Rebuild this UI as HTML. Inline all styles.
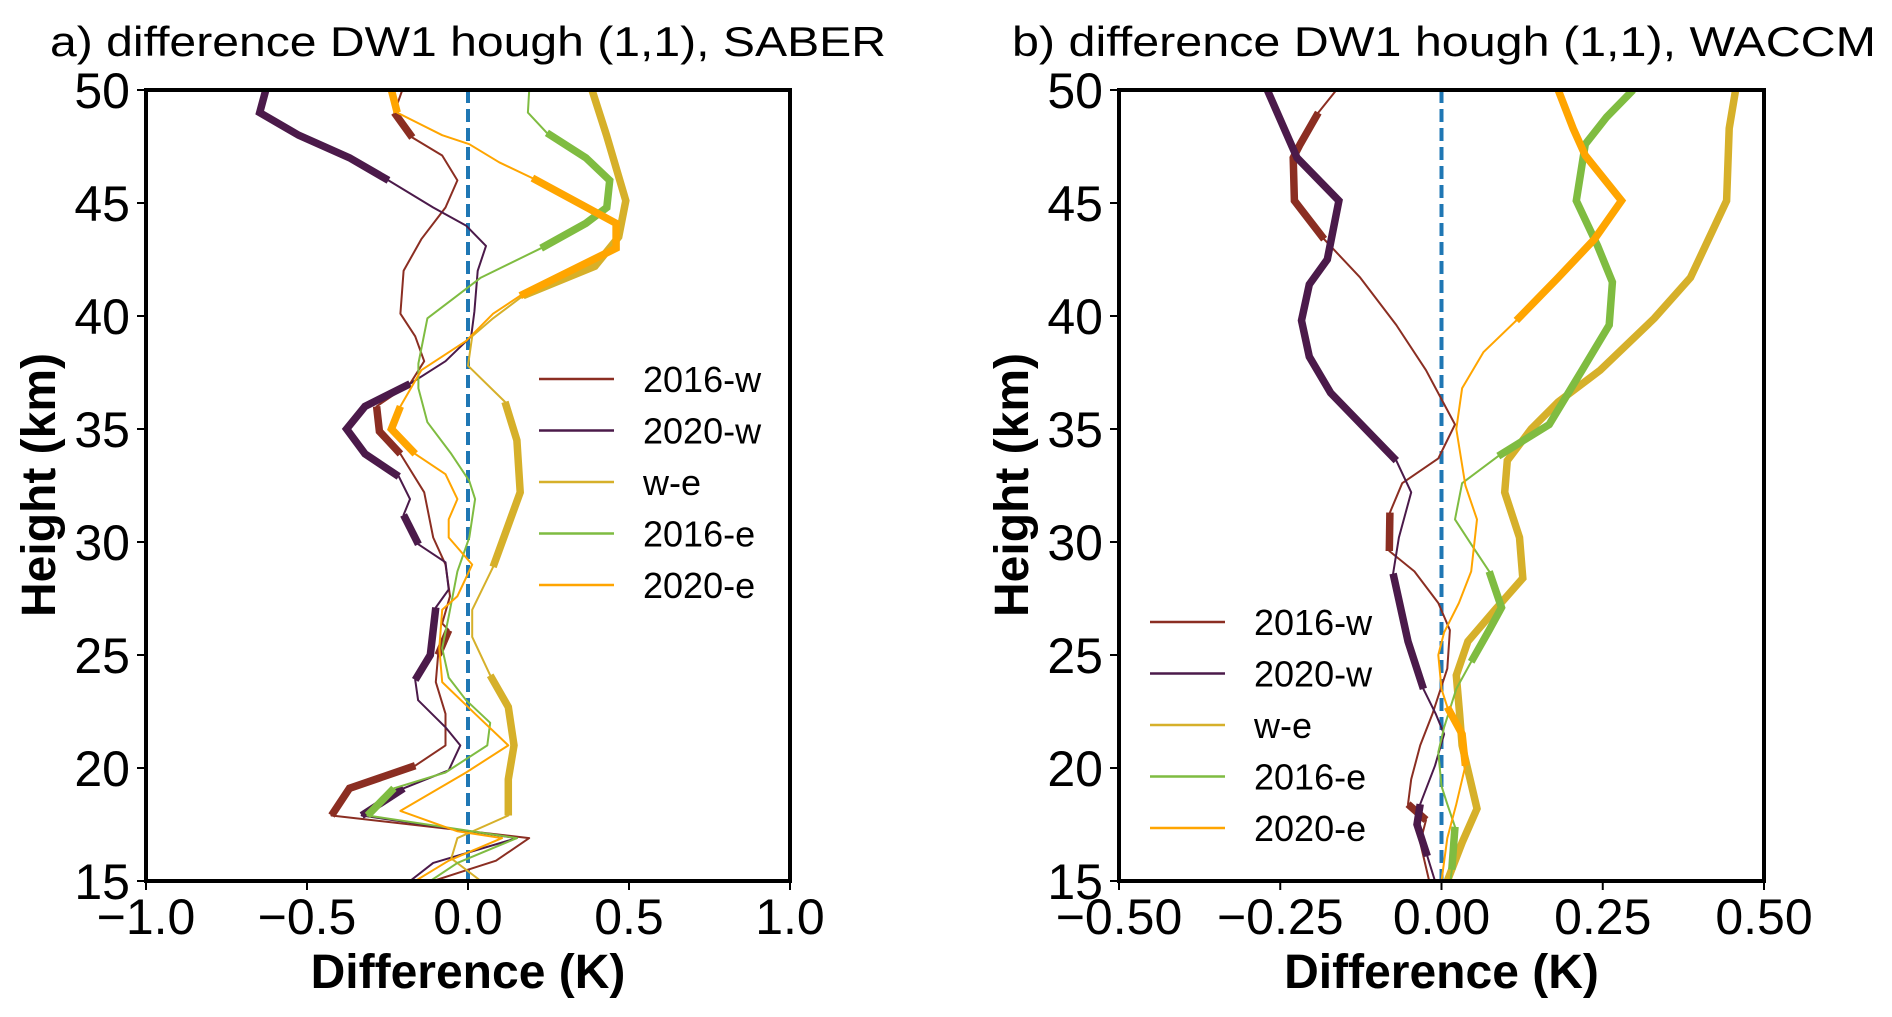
<!DOCTYPE html>
<html><head><meta charset="utf-8"><style>
html,body{margin:0;padding:0;background:#fff}
svg{display:block}
text{font-family:"Liberation Sans",sans-serif}
</style></head><body>
<svg id="fig" width="1892" height="1017" viewBox="0 0 1892 1017" xmlns="http://www.w3.org/2000/svg">
<rect width="1892" height="1017" fill="#fff"/>
</svg>
<script>
// ===== Panel a (SABER) data =====
const aHeights_2016w=[50,49,47.9,47.1,46,44.8,43.4,42,40.1,39.1,38,37,36,34.9,33.9,32.2,30.2,29,27.6,26.4,26.1,25,23.8,22.4,21,20.1,19.1,17.9,16.9,15.9,15.5,15];
const aValues_2016w=[-0.204,-0.229,-0.173,-0.08,-0.033,-0.07,-0.145,-0.2,-0.21,-0.164,-0.136,-0.18,-0.284,-0.275,-0.21,-0.136,-0.108,-0.07,-0.056,-0.08,-0.06,-0.093,-0.1,-0.07,-0.07,-0.164,-0.368,-0.424,0.19,0.087,0,-0.108];
const aSig_2016w=[0,1,1,0,0,0,0,0,0,0,0,0,1,1,1,0,0,0,0,0,1,1,0,0,0,1,1,1,0,0,0,0];

const aHeights_2020w=[50,49,48,47,46,44.8,44,43.1,42,40.2,39.1,38,37,36,35,33.9,32.9,31.9,31.2,29.9,29.1,27.9,27.1,25,23.9,23,21.8,21,19.9,19.1,17.9,16.9,15.8,15];
const aValues_2020w=[-0.628,-0.647,-0.526,-0.368,-0.247,-0.108,-0.006,0.056,0.03,0.02,0.01,-0.07,-0.18,-0.32,-0.377,-0.32,-0.215,-0.18,-0.2,-0.154,-0.07,-0.06,-0.1,-0.117,-0.164,-0.155,-0.07,-0.024,-0.06,-0.2,-0.33,0.152,-0.108,-0.18];
const aSig_2020w=[1,1,1,1,1,0,0,0,0,0,0,0,1,1,1,1,1,0,1,1,0,0,1,1,1,0,0,0,0,1,1,0,0,0];

const aHeights_we=[50,48,45.1,43.5,42.2,40.9,39.9,39.1,37.8,36.2,34.5,32.2,28.9,27,25.8,24.1,22.7,21,19.5,17.9,16.9,16,15];
const aValues_we=[0.385,0.43,0.49,0.468,0.394,0.171,0.078,0.013,0,0.115,0.152,0.162,0.078,0.013,0.013,0.069,0.125,0.143,0.125,0.125,-0.033,-0.052,0.04];
const aSig_we=[1,1,1,1,1,1,0,0,0,1,1,1,1,0,0,1,1,1,1,1,0,0,0];

const aHeights_2016e=[50,49,48.1,47,46,44.8,44.1,43,41.7,40.8,39.9,37.9,36.8,35.3,33.9,32.7,31.9,30.2,28.7,26.7,25.3,24,23,22,21,19.8,19.1,17.9,16.9,15.8,15];
const aValues_2016e=[0.19,0.186,0.245,0.366,0.44,0.431,0.366,0.227,0.04,-0.043,-0.126,-0.154,-0.154,-0.126,-0.052,0.004,0.022,0.004,-0.033,-0.06,-0.08,-0.06,-0.006,0.069,0.06,-0.07,-0.23,-0.312,0.152,-0.033,-0.117];
const aSig_2016e=[0,0,1,1,1,1,1,1,0,0,0,0,0,0,0,0,0,0,0,0,0,0,0,0,0,0,1,1,0,0,0];

const aHeights_2020e=[50,49,48,47.6,46.8,46.1,44.1,43,40.9,40.1,38.9,37.6,36,35,33.9,33,31.9,31,30.2,29,27.6,27,25.3,23.8,22.4,21,19.8,18.1,17.2,16.9,15.9,15];
const aValues_2020e=[-0.238,-0.22,-0.08,0.004,0.097,0.2,0.46,0.46,0.162,0.078,-0.006,-0.145,-0.21,-0.238,-0.164,-0.07,-0.033,-0.06,-0.06,0.013,-0.033,-0.08,-0.089,-0.08,0.022,0.125,-0.006,-0.21,-0.033,0.106,-0.06,-0.164];
const aSig_2020e=[1,1,0,0,0,1,1,1,1,0,0,0,1,1,1,0,0,0,0,0,0,0,0,0,0,0,0,0,0,0,0,0];

// ===== Panel b (WACCM) data =====
const bHeights_2016w=[50,49,47.6,47,45.1,43.4,41.7,39.6,37.6,35.2,33.7,32.6,31.3,29.6,28.7,27.3,26.1,24.4,22.4,21,19.5,18.4,17.7,16.7,15];
const bValues_2016w=[-0.163,-0.191,-0.219,-0.23,-0.228,-0.182,-0.126,-0.07,-0.024,0.021,-0.005,-0.061,-0.08,-0.081,-0.042,-0.005,0.013,0.009,-0.014,-0.033,-0.047,-0.052,-0.024,-0.033,-0.019];
const bSig_2016w=[0,1,1,1,1,1,0,0,0,0,0,0,1,1,0,0,0,0,0,0,0,1,1,0,0];

const bHeights_2020w=[50,47,45.1,42.5,41.4,39.8,38.2,36.6,33.6,32.2,30.2,28.6,25.6,23.5,22.4,21.5,20.1,18.4,17.5,16.1,15];
const bValues_2020w=[-0.27,-0.224,-0.159,-0.177,-0.205,-0.217,-0.205,-0.172,-0.07,-0.047,-0.066,-0.075,-0.052,-0.028,-0.009,0.004,-0.01,-0.033,-0.038,-0.022,-0.01];
const bSig_2020w=[1,1,1,1,1,1,1,1,1,0,0,1,1,1,0,0,0,1,1,1,0];

const bHeights_we=[50,48.3,45.1,41.7,39.9,37.6,36.2,35,33.6,32.2,30.2,28.4,27,25.6,24.1,22.4,21,18.2,16.7,15];
const bValues_we=[0.456,0.446,0.442,0.386,0.33,0.246,0.181,0.139,0.102,0.098,0.121,0.126,0.083,0.041,0.023,0.028,0.032,0.055,0.032,0.009];
const bSig_we=[1,1,1,1,1,1,1,1,1,1,1,1,1,1,1,1,1,1,1,1];

const bHeights_2016e=[50,48.8,47.6,45.1,43.1,41.5,39.6,37.6,35.2,33.8,32.6,31,29.9,28.7,27.1,26.1,24.7,23.5,21.8,20.7,19.2,18.4,17.4,15.5,15];
const bValues_2016e=[0.297,0.256,0.223,0.209,0.242,0.265,0.26,0.218,0.167,0.088,0.032,0.021,0.046,0.074,0.093,0.074,0.046,0.023,0.004,-0.005,0,0.009,0.021,0.016,0.014];
const bSig_2016e=[1,1,1,1,1,1,1,1,1,1,0,0,0,1,1,1,1,0,0,0,0,0,1,1,0];

const bHeights_2020e=[50,48.3,47.1,45.1,43.4,41.7,39.8,38.4,36.8,35,32.5,31,28.7,27.3,26,25,23.5,22.7,21.5,20.1,18.4,16.9,15];
const bValues_2020e=[0.181,0.204,0.223,0.279,0.237,0.181,0.116,0.065,0.032,0.023,0.037,0.055,0.046,0.027,0.004,-0.005,0,0.009,0.032,0.037,0.023,0.009,0];
const bSig_2020e=[1,1,1,1,1,1,1,0,0,0,0,0,0,0,0,0,0,1,1,1,0,0,0];

const seriesNames=["2016-w","2020-w","w-e","2016-e","2020-e"];
const aXTicks=[-1.0,-0.5,0.0,0.5,1.0];
const aXTickLabels=["\u22121.0","\u22120.5","0.0","0.5","1.0"];
const bXTicks=[-0.5,-0.25,0,0.25,0.5];
const bXTickLabels=["\u22120.50","\u22120.25","0.00","0.25","0.50"];
const yTicks=[15,20,25,30,35,40,45,50];

const colors=["#8b2e22","#4b1a4a","#d6b02a","#7fbc41","#ffa500"];
const NS="http://www.w3.org/2000/svg";
const svg=document.getElementById('fig');
function mk(tag,attrs,parent){const e=document.createElementNS(NS,tag);for(const k in attrs)e.setAttribute(k,attrs[k]);(parent||svg).appendChild(e);return e;}

function panel(cfg){
  const g=mk('g',{});
  
  
  const L=cfg.left,R=cfg.right,T=90,B=881;
  const xs=v=>L+(v-cfg.xmin)/(cfg.xmax-cfg.xmin)*(R-L);
  const ys=h=>B-(h-15)/(50-15)*(B-T);
  const clip=mk('clipPath',{id:'clip-'+cfg.id},g);
  mk('rect',{x:L,y:T,width:R-L,height:B-T},clip);
  const lines=mk('g',{'clip-path':'url(#clip-'+cfg.id+')'},g);
  const z=mk('line',{x1:xs(0),x2:xs(0),y1:T,y2:B,stroke:'#1f77b4','stroke-width':4,'stroke-dasharray':'13,6'},lines);
  
  
  cfg.series.forEach((s,i)=>{
    const sg=mk('g',{},lines);
    
    
    let d='';
    s.h.forEach((h,j)=>{d+=(j?'L':'M')+xs(s.v[j]).toFixed(1)+' '+ys(h).toFixed(1);});
    mk('path',{d:d,fill:'none',stroke:colors[i],'stroke-width':2,'stroke-linejoin':'round'},sg);
    let run=[];
    const flush=()=>{if(run.length>1){let dd='';run.forEach((j,k)=>{dd+=(k?'L':'M')+xs(s.v[j]).toFixed(1)+' '+ys(s.h[j]).toFixed(1);});
      const p=mk('path',{d:dd,fill:'none',stroke:colors[i],'stroke-width':7.5,'stroke-linejoin':'miter'},sg);
      
      }run=[];};
    s.sig.forEach((f,j)=>{if(f)run.push(j);else flush();});
    flush();
  });
  const fr=mk('rect',{x:L,y:T,width:R-L,height:B-T,fill:'none',stroke:'#000','stroke-width':4},g);
  
  
  cfg.xticks.forEach((t,j)=>{
    mk('line',{x1:xs(t),x2:xs(t),y1:B,y2:B+9,stroke:'#000','stroke-width':2},g);
    const tx=mk('text',{x:xs(t),y:934,'font-size':50,'text-anchor':'middle',fill:'#000'},g);
    tx.textContent=cfg.xlabels[j];
    
    
  });
  yTicks.forEach(t=>{
    mk('line',{x1:L-9,x2:L,y1:ys(t),y2:ys(t),stroke:'#000','stroke-width':2},g);
    const tx=mk('text',{x:L-16,y:ys(t)+18,'font-size':50,'text-anchor':'end',fill:'#000'},g);
    tx.textContent=String(t);
    
    
  });
  const xl=mk('text',{x:(L+R)/2,y:988,'font-size':48,'font-weight':'bold','text-anchor':'middle',fill:'#000'},g);
  xl.textContent='Difference (K)';
  
  
  const yl=mk('text',{x:0,y:0,'font-size':48,'font-weight':'bold','text-anchor':'middle',fill:'#000',transform:'translate('+(L-91)+',485) rotate(-90)'},g);
  yl.textContent='Height (km)';
  
  
  const tt=mk('text',{x:cfg.titleX,y:56,'font-size':42,fill:'#000',textLength:cfg.titleW,lengthAdjust:'spacingAndGlyphs'},g);
  tt.textContent=cfg.title;
  
  
  const lg=mk('g',{},g);
  
  
  seriesNames.forEach((n,i)=>{
    const y=cfg.legY+i*51.5;
    const e=mk('g',{},lg);
    
    
    mk('line',{x1:cfg.legX,x2:cfg.legX+75,y1:y,y2:y,stroke:colors[i],'stroke-width':2.5},e);
    const t=mk('text',{x:cfg.legX+104,y:y+13,'font-size':36,fill:'#000'},e);
    t.textContent=n;
  });
}
panel({id:'saber',left:146,right:790,xmin:-1,xmax:1,xticks:aXTicks,xlabels:aXTickLabels,
  title:'a) difference DW1 hough (1,1), SABER',titleX:50,titleW:836,legX:539,legY:379,
  series:[{h:aHeights_2016w,v:aValues_2016w,sig:aSig_2016w},{h:aHeights_2020w,v:aValues_2020w,sig:aSig_2020w},{h:aHeights_we,v:aValues_we,sig:aSig_we},{h:aHeights_2016e,v:aValues_2016e,sig:aSig_2016e},{h:aHeights_2020e,v:aValues_2020e,sig:aSig_2020e}]});
panel({id:'waccm',left:1119,right:1764,xmin:-0.5,xmax:0.5,xticks:bXTicks,xlabels:bXTickLabels,
  title:'b) difference DW1 hough (1,1), WACCM',titleX:1012,titleW:864,legX:1150,legY:622,
  series:[{h:bHeights_2016w,v:bValues_2016w,sig:bSig_2016w},{h:bHeights_2020w,v:bValues_2020w,sig:bSig_2020w},{h:bHeights_we,v:bValues_we,sig:bSig_we},{h:bHeights_2016e,v:bValues_2016e,sig:bSig_2016e},{h:bHeights_2020e,v:bValues_2020e,sig:bSig_2020e}]});
</script>
</body></html>
